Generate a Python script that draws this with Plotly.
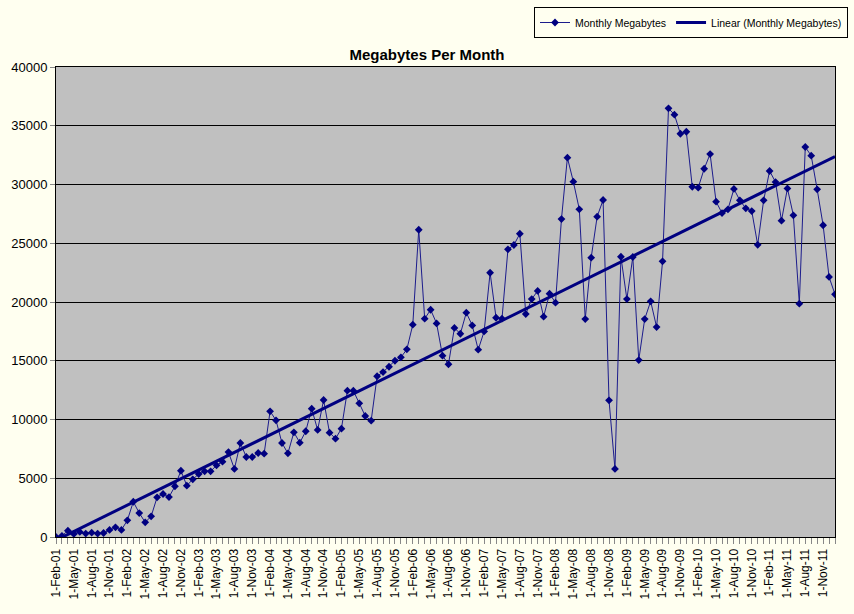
import numpy as np
import pandas as pd
import plotly.graph_objects as go

# Monthly data Feb-2001 .. Jan-2012
months = pd.date_range("2001-02-01", periods=132, freq="MS")
month_labels = [f"{d.day}-{d.strftime('%b')}-{d.strftime('%y')}" for d in months]

megabytes = [
    0, 100, 540, 260, 430, 290, 370, 290, 340, 600, 820, 600,
    1420, 3000, 2040, 1250, 1760, 3380, 3660, 3400, 4310, 5640, 4370, 4910,
    5360, 5590, 5590, 6100, 6410, 7230, 5790, 8000, 6810, 6810, 7150, 7090,
    10700, 9930, 8000, 7120, 8910, 8030, 9000, 10920, 9110, 11660, 8880, 8370,
    9220, 12450, 12450, 11380, 10300, 9900, 13680, 14040, 14490, 15000, 15290, 15970,
    18070, 26150, 18580, 19340, 18180, 15430, 14700, 17790, 17300, 19090, 18010, 15940,
    17500, 22490, 18660, 18580, 24480, 24850, 25810, 18980, 20250, 20940, 18750, 20710,
    19940, 27060, 32280, 30240, 27890, 18550, 23770, 27260, 28680, 11630, 5790, 23850,
    20250, 23830, 15060, 18550, 20060, 17870, 23460, 36480, 35940, 34320, 34490, 29810,
    29730, 31340, 32590, 28540, 27570, 27890, 29620, 28650, 27970, 27740, 24870, 28650,
    31150, 30210, 26920, 29670, 27380, 19860, 33190, 32450, 29590, 26530, 22130, 20650,
]

y_ticks = [0, 5000, 10000, 15000, 20000, 25000, 30000, 35000, 40000]

x_idx = np.arange(len(megabytes))
slope, intercept = np.polyfit(x_idx + 1, megabytes, 1)
trend = slope * (x_idx + 1) + intercept

tick_idx = list(range(0, len(megabytes), 3))
tick_text = [month_labels[i] for i in tick_idx]

NAVY = "#000080"
fig = go.Figure()
fig.add_trace(go.Scatter(
    x=x_idx, y=megabytes, mode="lines+markers", name="Monthly Megabytes",
    line=dict(color="#1c1c8c", width=1),
    marker=dict(symbol="diamond", size=6, color=NAVY),
))
fig.add_trace(go.Scatter(
    x=x_idx, y=trend, mode="lines", name="Linear (Monthly Megabytes)",
    line=dict(color=NAVY, width=3),
))

fig.update_layout(
    width=854, height=614,
    margin=dict(l=56, r=19, t=67, b=77, autoexpand=False),
    paper_bgcolor="#FFFFF0",
    plot_bgcolor="#C0C0C0",
    font=dict(family="Liberation Sans, Arial, sans-serif", color="black", size=12),
    title=dict(text="<b>Megabytes Per Month</b>", x=0.5, xref="container",
               y=1 - 55 / 614, yanchor="middle",
               font=dict(size=15, family="Liberation Sans, Arial, sans-serif")),
    showlegend=True,
    legend=dict(orientation="h", x=(848 - 56) / 779, xanchor="right",
                y=(537 - 7) / 470, yanchor="top",
                bordercolor="black", borderwidth=1, bgcolor="#FFFFF0",
                font=dict(size=10.5), itemwidth=30, tracegroupgap=0),
)
fig.update_xaxes(
    range=[0, len(megabytes) - 1],
    tickmode="array", tickvals=tick_idx, ticktext=tick_text, tickangle=-90,
    ticks="outside", ticklen=6, tickcolor="#888888",
    minor=dict(tickmode="array", tickvals=list(x_idx), ticks="outside",
               ticklen=6, tickcolor="#888888"),
    showgrid=False, zeroline=False,
    showline=True, linecolor="black", linewidth=1, mirror=True,
    tickfont=dict(size=12),
)
fig.update_yaxes(
    range=[0, 40000], tickmode="array", tickvals=y_ticks,
    ticktext=[str(v) for v in y_ticks],
    ticks="outside", ticklen=5, tickcolor="#888888",
    showgrid=True, gridcolor="black", gridwidth=1, zeroline=False,
    showline=True, linecolor="black", linewidth=1, mirror=True,
    tickfont=dict(size=13),
)

fig.write_html("out.html")
